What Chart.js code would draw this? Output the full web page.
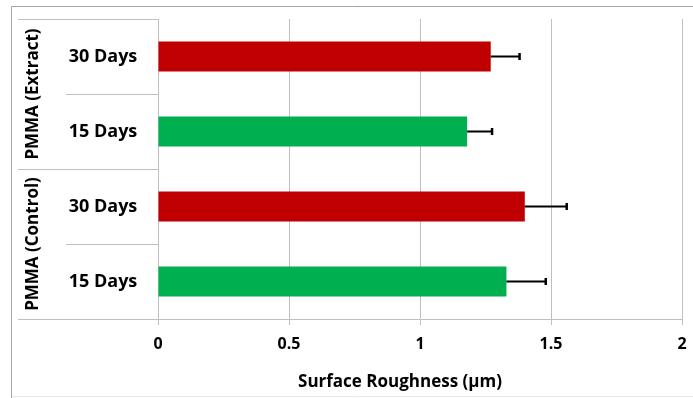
<!DOCTYPE html>
<html>
<head>
<meta charset="utf-8">
<script src="https://cdn.jsdelivr.net/npm/chart.js@4"></script>
<style>
    html, body { margin: 0; padding: 0; background: #fff; }
</style>
</head>
<body>
<canvas id="roughness" width="693" height="398"></canvas>
<script>
(function () {
    "use strict";

    // Data
    var dayLabels = ["30 Days", "15 Days", "30 Days", "15 Days"];
    var groupLabels = ["PMMA (Extract)", "PMMA (Control)"];
    var roughness = [1.27, 1.18, 1.40, 1.33];
    var roughnessErr = [0.11, 0.095, 0.16, 0.15];
    var barColors = ["#C00000", "#00B050", "#C00000", "#00B050"];
    var xTicks = [0, 0.5, 1, 1.5, 2];
    var xTitle = "Surface Roughness (\u00B5m)";

    var FONT = "'Open Sans', sans-serif";
    var LINE = "#bfbfbf";

    // Frame, category labels, separators and error bars
    var sidePanel = {
        id: "sidePanel",
        beforeDraw: function (chart) {
            var ctx = chart.ctx;
            ctx.save();
            ctx.fillStyle = "#fff";
            ctx.fillRect(0, 0, chart.width, chart.height);
            ctx.strokeStyle = "#a6a6a6";
            ctx.lineWidth = 1;
            ctx.beginPath();
            ctx.moveTo(11.5, chart.height);
            ctx.lineTo(11.5, 6.5);
            ctx.lineTo(chart.width, 6.5);
            ctx.stroke();
            ctx.strokeStyle = "#e8e8e8";
            ctx.beginPath();
            ctx.moveTo(12, 396.5);
            ctx.lineTo(chart.width, 396.5);
            ctx.stroke();
            ctx.restore();
        },
        afterDatasetsDraw: function (chart) {
            var ctx = chart.ctx;
            var xs = chart.scales.x, ys = chart.scales.y;
            ctx.save();
            ctx.strokeStyle = "#000";
            for (var i = 0; i < roughness.length; i++) {
                var x0 = xs.getPixelForValue(roughness[i]);
                var x1 = xs.getPixelForValue(roughness[i] + roughnessErr[i]);
                var y = ys.getPixelForValue(i);
                ctx.lineWidth = 2;
                ctx.beginPath();
                ctx.moveTo(x0, y);
                ctx.lineTo(x1, y);
                ctx.stroke();
                ctx.lineWidth = 2.5;
                ctx.beginPath();
                ctx.moveTo(x1, y - 3.5);
                ctx.lineTo(x1, y + 3.5);
                ctx.stroke();
            }
            ctx.restore();
        },
        afterDraw: function (chart) {
            var ctx = chart.ctx;
            var area = chart.chartArea;
            var ys = chart.scales.y;
            var step = (area.bottom - area.top) / dayLabels.length;
            ctx.save();

            // separators in the label column
            ctx.strokeStyle = LINE;
            ctx.lineWidth = 1;
            for (var k = 0; k <= dayLabels.length; k++) {
                var yb = Math.round(area.top + k * step) + 0.5;
                ctx.beginPath();
                ctx.moveTo(k % 2 === 0 ? 18 : 66, yb);
                ctx.lineTo(area.left, yb);
                ctx.stroke();
            }

            ctx.fillStyle = "#000";
            ctx.textBaseline = "middle";
            ctx.textAlign = "center";

            // day labels
            ctx.font = "bold 18px " + FONT;
            for (var i = 0; i < dayLabels.length; i++) {
                ctx.fillText(dayLabels[i], 103, ys.getPixelForValue(i));
            }

            // group labels, rotated
            ctx.font = "bold 17px " + FONT;
            for (var g = 0; g < groupLabels.length; g++) {
                var yc = area.top + (g * 2 + 1) * step;
                ctx.save();
                ctx.translate(33, yc);
                ctx.rotate(-Math.PI / 2);
                ctx.fillText(groupLabels[g], 0, 0);
                ctx.restore();
            }

            // axis title
            ctx.font = "bold 17px " + FONT;
            ctx.fillText(xTitle, 400, 382);
            ctx.restore();
        }
    };

    var ctx = document.getElementById("roughness").getContext("2d");
    new Chart(ctx, {
        type: "bar",
        data: {
            labels: dayLabels,
            datasets: [{
                data: roughness,
                backgroundColor: barColors,
                borderWidth: 0,
                categoryPercentage: 1,
                barPercentage: 0.4
            }]
        },
        options: {
            indexAxis: "y",
            responsive: false,
            animation: false,
            layout: { padding: { top: 19, right: 11, left: 0, bottom: 0 } },
            plugins: {
                legend: { display: false },
                tooltip: { enabled: false }
            },
            scales: {
                x: {
                    min: xTicks[0],
                    max: xTicks[xTicks.length - 1],
                    afterBuildTicks: function (scale) {
                        scale.ticks = xTicks.map(function (v) { return { value: v }; });
                    },
                    afterFit: function (scale) {
                        scale.height = 79;
                        scale.paddingLeft = 0;
                        scale.paddingRight = 0;
                    },
                    grid: { color: LINE, lineWidth: 1, tickLength: 6, tickColor: LINE },
                    border: { color: LINE },
                    ticks: {
                        color: "#000",
                        padding: 10,
                        maxRotation: 0,
                        font: { family: FONT, size: 16, weight: "bold" },
                        callback: function (v) { return String(v); }
                    }
                },
                y: {
                    afterFit: function (scale) { scale.width = 158; },
                    grid: { display: false },
                    border: { display: true, color: LINE },
                    ticks: { display: false }
                }
            }
        },
        plugins: [sidePanel]
    });
})();
</script>
</body>
</html>
